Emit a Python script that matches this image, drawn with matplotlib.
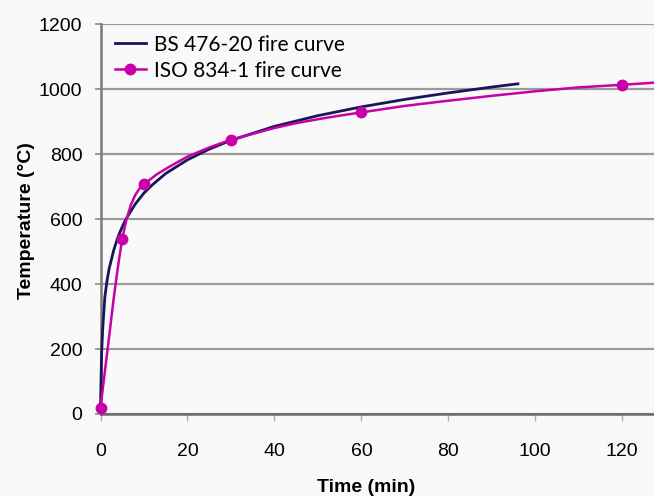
import matplotlib.pyplot as plt

# BS 476-20 curve
bs_t = [0, 0.25, 0.5, 1, 1.5, 2, 3, 4, 5, 6, 8, 10, 12, 15, 20, 25, 30,
        40, 50, 60, 70, 80, 90, 96]
bs_temp = [20, 185, 260, 360, 410, 448, 502, 544, 576, 603, 646, 680, 706,
           740, 782, 815, 842, 885, 918, 945, 968, 988, 1006, 1016]

# ISO 834-1 curve (smoothed line)
iso_t = [0, 1, 2, 3, 4, 5, 6, 7, 8, 9, 10, 13, 16, 20, 25, 30, 40, 45, 50,
         55, 60, 70, 80, 90, 100, 110, 120, 128]
iso_temp = [20, 130, 240, 352, 452, 540, 600, 644, 674, 694, 707, 738, 762,
            792, 820, 844, 880, 895, 907, 918, 928, 948, 964, 979, 993, 1005,
            1013, 1020]
iso_marks = [0, 5, 10, 15, 20, 26]   # indices of t = 0, 5, 10, 30, 60, 120

bg = '#f9f9f9'
fig = plt.figure(figsize=(6.54, 4.96), dpi=100, facecolor=bg)
ax = fig.add_axes([100.5 / 654, 1 - 414 / 496, 553.5 / 654, 390 / 496])
ax.set_facecolor(bg)

ax.plot(bs_t, bs_temp, color='#16165a', lw=2.0, label='BS 476-20 fire curve',
        clip_on=False, zorder=3)
ax.plot(iso_t, iso_temp, color='#c800a8', lw=1.8, marker='o', ms=7.5,
        markevery=iso_marks, label='ISO 834-1 fire curve', clip_on=False,
        zorder=4)

ax.set_xlim(0, 127.3)
ax.set_ylim(0, 1200)
ax.set_xticks([0, 20, 40, 60, 80, 100, 120])
ax.set_yticks([0, 200, 400, 600, 800, 1000, 1200])
ax.yaxis.grid(True, color='#9a9a9a', lw=1.6)
ax.set_axisbelow(True)

ax.spines['top'].set_visible(False)
ax.spines['right'].set_color('#b0b0b0')
ax.spines['left'].set_color('#7a7a7a')
ax.spines['bottom'].set_color('#6a6a6a')
ax.spines['left'].set_linewidth(1.8)
ax.spines['bottom'].set_linewidth(1.8)

ax.tick_params(axis='y', length=4, width=1.4, color='#9a9a9a', pad=9,
               labelsize=14)
ax.tick_params(axis='x', length=5, width=1.0, color='#b0b0b0', pad=16,
               labelsize=14)
for lab in ax.get_xticklabels() + ax.get_yticklabels():
    lab.set_fontfamily('Liberation Sans')

ax.set_xlabel('Time (min)', fontsize=14, fontweight='bold',
              fontfamily='Liberation Sans')
ax.xaxis.set_label_coords(0.48, -0.166)
ax.set_ylabel('Temperature (°C)', fontsize=14, fontweight='bold',
              fontfamily='Liberation Sans')
ax.yaxis.set_label_coords(-0.118, 0.495)

ax.legend(loc='upper left', bbox_to_anchor=(0.0253, 0.973), frameon=False,
          borderpad=0, borderaxespad=0, handlelength=1.5, handletextpad=0.4,
          labelspacing=0.3, prop={'family': 'Lato', 'size': 15})

fig.savefig('out.png', dpi=100, facecolor=bg)
